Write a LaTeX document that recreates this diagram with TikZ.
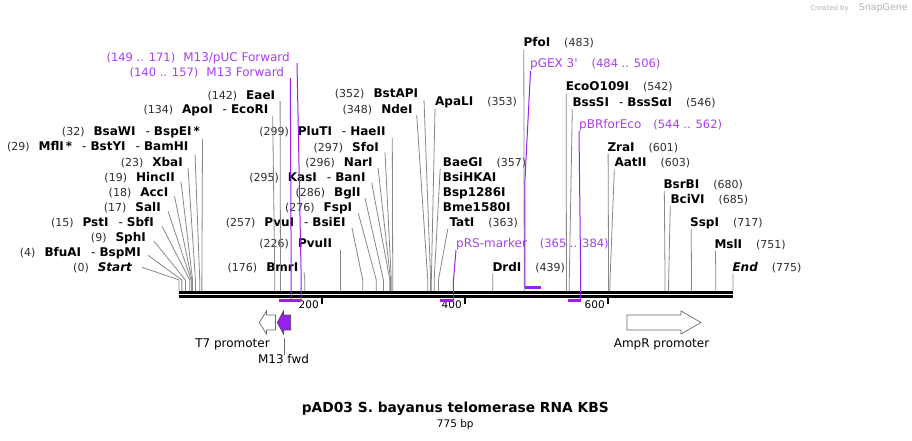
\documentclass[tikz,border=0pt]{standalone}
\usepackage{fontspec}
\setmainfont{DejaVu Sans}
\usetikzlibrary{positioning}

\definecolor{numgray}{RGB}{45,45,45}
\definecolor{cutgray}{RGB}{135,135,135}
\definecolor{primerline}{RGB}{152,32,238}
\definecolor{primertext}{RGB}{168,62,240}
\definecolor{featgray}{RGB}{105,105,105}

\newcommand{\bpx}[1]{179+0.7148*#1}
\newcommand{\sitenum}[1]{{\fontsize{11}{13}\selectfont\color{numgray}(#1)}}
\newcommand{\primnum}[1]{{\fontsize{11.5}{13}\selectfont(#1)}}
\newcommand{\orcut}{\hspace{10pt}-\hspace{4pt}}
\newcommand{\cutsite}[3]{\draw[cut] ([shift={#2}]#1) -- ({\bpx{#3}},280) -- ({\bpx{#3}},291);}

\begin{document}
\begin{tikzpicture}[x=1pt,y=-1pt,
    lbl/.style={inner sep=0pt,text height=9pt,text depth=2.5pt,font=\fontsize{12}{14}\selectfont},
    lblL/.style={lbl,anchor=base east},
    lblR/.style={lbl,anchor=base west},
    plbl/.style={lbl,text=primertext},
    cut/.style={draw=cutgray,line width=0.8pt},
    primer/.style={draw=primerline,line width=1pt},
    primerbar/.style={draw=primerline,line width=2.6pt},
    feat/.style={draw=featgray,line width=0.7pt,fill=white,line join=miter},
    featlbl/.style={inner sep=0pt,font=\fontsize{12}{14}\selectfont}]
	\useasboundingbox (0,0) rectangle (912,441);

	\node[lblL] (start) at (132.5,271.5) {\sitenum{0}\hspace{9pt}\textbf{\textit{Start}}};
	\node[lblL] (bfuAI) at (141,256.5) {\sitenum{4}\hspace{9pt}\textbf{BfuAI}\orcut\textbf{BspMI}};
	\node[lblL] (sphI) at (146,241.5) {\sitenum{9}\hspace{9pt}\textbf{SphI}};
	\node[lblL] (pstI) at (154,226.5) {\sitenum{15}\hspace{9pt}\textbf{PstI}\orcut\textbf{SbfI}};
	\node[lblL] (salI) at (161,211.5) {\sitenum{17}\hspace{9pt}\textbf{SalI}};
	\node[lblL] (accI) at (168.5,196.5) {\sitenum{18}\hspace{9pt}\textbf{AccI}};
	\node[lblL] (hincII) at (175,181.5) {\sitenum{19}\hspace{9pt}\textbf{HincII}};
	\node[lblL] (xbaI) at (183,166) {\sitenum{23}\hspace{9pt}\textbf{XbaI}};
	\node[lblL] (mflI) at (188.5,150.5) {\sitenum{29}\hspace{9pt}\textbf{MflI\,*}\orcut\textbf{BstYI}\orcut\textbf{BamHI}};
	\node[lblL] (bsaWI) at (200,135.5) {\sitenum{32}\hspace{9pt}\textbf{BsaWI}\orcut\textbf{BspEI\,*}};

	\node[lblL] (apoI) at (268.5,113.5) {\sitenum{134}\hspace{9pt}\textbf{ApoI}\orcut\textbf{EcoRI}};
	\node[lblL] (eaeI) at (275.3,99.5) {\sitenum{142}\hspace{9pt}\textbf{EaeI}};
	\node[lblL] (bmrI) at (298.5,271.5) {\sitenum{176}\hspace{9pt}\textbf{BmrI}};
	\node[lblL] (pvuII) at (332.3,247.6) {\sitenum{226}\hspace{9pt}\textbf{PvuII}};
	\node[lblL] (pvuI) at (345.7,226) {\sitenum{257}\hspace{9pt}\textbf{PvuI}\orcut\textbf{BsiEI}};
	\node[lblL] (fspI) at (352.3,211) {\sitenum{276}\hspace{9pt}\textbf{FspI}};
	\node[lblL] (bglI) at (360.7,196) {\sitenum{286}\hspace{9pt}\textbf{BglI}};
	\node[lblL] (kasI) at (365.7,181) {\sitenum{295}\hspace{9pt}\textbf{KasI}\orcut\textbf{BanI}};
	\node[lblL] (narI) at (372.7,166) {\sitenum{296}\hspace{9pt}\textbf{NarI}};
	\node[lblL] (sfoI) at (379,151) {\sitenum{297}\hspace{9pt}\textbf{SfoI}};
	\node[lblL] (pluTI) at (385.7,135.2) {\sitenum{299}\hspace{9pt}\textbf{PluTI}\orcut\textbf{HaeII}};
	\node[lblL] (ndeI) at (412.7,113.3) {\sitenum{348}\hspace{9pt}\textbf{NdeI}};
	\node[lblL] (bstAPI) at (418.3,97.6) {\sitenum{352}\hspace{9pt}\textbf{BstAPI}};

	\node[lblR] (apaLI) at (435,106) {\textbf{ApaLI}\hspace{14pt}\sitenum{353}};
	\node[lblR] (baeGI) at (442.7,166) {\textbf{BaeGI}\hspace{14pt}\sitenum{357}};
	\node[lblR] (bsiHKAI) [below=15pt of baeGI.base west,anchor=base west] {\textbf{BsiHKAI}};
	\node[lblR] (bsp1286I) [below=15pt of bsiHKAI.base west,anchor=base west] {\textbf{Bsp1286I}};
	\node[lblR] (bme1580I) [below=15pt of bsp1286I.base west,anchor=base west] {\textbf{Bme1580I}};
	\node[lblR] (tatI) at (449.3,226) {\textbf{TatI}\hspace{14pt}\sitenum{363}};
	\node[lblR] (drdI) at (492.3,271.5) {\textbf{DrdI}\hspace{14pt}\sitenum{439}};
	\node[lblR] (pfoI) at (523.3,46.6) {\textbf{PfoI}\hspace{14pt}\sitenum{483}};
	\node[lblR] (ecoO109I) at (565.7,91) {\textbf{EcoO109I}\hspace{14pt}\sitenum{542}};
	\node[lblR] (bssSI) at (572.3,106.6) {\textbf{BssSI}\orcut\textbf{BssSαI}\hspace{14pt}\sitenum{546}};
	\node[lblR] (zraI) at (607.3,151) {\textbf{ZraI}\hspace{14pt}\sitenum{601}};
	\node[lblR] (aatII) at (614.3,166.6) {\textbf{AatII}\hspace{14pt}\sitenum{603}};
	\node[lblR] (bsrBI) at (663.3,188.3) {\textbf{BsrBI}\hspace{14pt}\sitenum{680}};
	\node[lblR] (bciVI) at (670.3,203.3) {\textbf{BciVI}\hspace{14pt}\sitenum{685}};
	\node[lblR] (sspI) at (690,226) {\textbf{SspI}\hspace{14pt}\sitenum{717}};
	\node[lblR] (mslI) at (714.3,248.3) {\textbf{MslI}\hspace{14pt}\sitenum{751}};
	\node[lblR] (endS) at (732.3,271) {\textbf{\textit{End}}\hspace{14pt}\sitenum{775}};

	\cutsite{start.east}{(9.5,-1)}{0}
	\cutsite{bfuAI.east}{(7,2)}{4}
	\cutsite{sphI.east}{(8,3)}{9}
	\cutsite{pstI.east}{(8,3)}{15}
	\cutsite{salI.east}{(7,3)}{17}
	\cutsite{accI.east}{(6,3)}{18}
	\cutsite{hincII.east}{(6,3.5)}{19}
	\cutsite{xbaI.east}{(5,5)}{23}
	\cutsite{mflI.east}{(6.5,7)}{29}
	\cutsite{bsaWI.east}{(2.5,7)}{32}
	\cutsite{apoI.east}{(4.2,5.8)}{134}
	\cutsite{eaeI.east}{(4.8,4.8)}{142}
	\cutsite{bmrI.east}{(5.5,4)}{176}
	\cutsite{pvuII.east}{(8.2,5.6)}{226}
	\cutsite{pvuI.east}{(6.3,5.3)}{257}
	\cutsite{fspI.east}{(6,5.5)}{276}
	\cutsite{bglI.east}{(4.3,5.3)}{286}
	\cutsite{kasI.east}{(6,5)}{295}
	\cutsite{narI.east}{(5.3,5)}{296}
	\cutsite{sfoI.east}{(6,4.5)}{297}
	\cutsite{pluTI.east}{(6.6,6)}{299}
	\cutsite{ndeI.east}{(4,5)}{348}
	\cutsite{bstAPI.east}{(5.7,5.6)}{352}
	\cutsite{apaLI.south west}{(0,0)}{353}
	\cutsite{baeGI.south west}{(-2.5,0)}{357}
	\cutsite{tatI.south west}{(-1.5,0)}{363}
	\cutsite{drdI.south west}{(0.5,0)}{439}
	\cutsite{pfoI.south west}{(0.5,0.5)}{483}
	\cutsite{ecoO109I.south west}{(0.5,0)}{542}
	\cutsite{bssSI.south west}{(0,0)}{546}
	\cutsite{zraI.south west}{(0.8,0)}{601}
	\cutsite{aatII.south west}{(0,0)}{603}
	\cutsite{bsrBI.south west}{(1,0)}{680}
	\cutsite{bciVI.south west}{(0,0)}{685}
	\cutsite{sspI.south west}{(1.2,0)}{717}
	\cutsite{mslI.south west}{(1.2,0)}{751}
	\cutsite{endS.south west}{(0.7,0)}{775}

	\coordinate (mapL) at (179,292.3);
	\coordinate (mapR) at (733,292.3);
	\draw[line width=2.6pt] (mapL) -- (mapR);
	\draw[line width=2.6pt] ([shift={(0,4)}]mapL) -- ([shift={(0,4)}]mapR);
	\foreach \t in {200,400,600}{
		\draw[line width=1.8pt] ({\bpx{\t}},297) -- ({\bpx{\t}},303.5);
		\node[inner sep=0pt,anchor=base east,font=\fontsize{10.5}{12}\selectfont] (tick\t) at ({\bpx{\t}-3},308.5) {\t};
	}

	\node[plbl,anchor=base east] (m13puc) at (290,61.3) {\primnum{149 .. 171}\hspace{8pt}M13/pUC Forward};
	\node[plbl,anchor=base east] (m13fwd) at (284.3,76.3) {\primnum{140 .. 157}\hspace{8pt}M13 Forward};
	\node[plbl,anchor=base west] (pgex) at (530,67.3) {pGEX 3\textquotesingle\hspace{14pt}\primnum{484 .. 506}};
	\node[plbl,anchor=base west] (pbr) at (579,128.3) {pBRforEco\hspace{12pt}\primnum{544 .. 562}};
	\node[plbl,anchor=base west] (prs) at (456,247.3) {pRS-marker\hspace{13pt}\primnum{365 .. 384}};

	\draw[primer] ([shift={(7,5)}]m13puc.east) -- ({\bpx{171}},280) -- ({\bpx{171}},300.5);
	\draw[primer] ([shift={(6,5)}]m13fwd.east) -- ({\bpx{157}},280) -- ({\bpx{157}},300.5);
	\draw[primer] ([shift={(0.5,1)}]pgex.south west) -- ({\bpx{484}},180) -- ({\bpx{484}},287.5);
	\draw[primer] (pbr.south west) -- ({\bpx{562}},280) -- ({\bpx{562}},300.5);
	\draw[primer] (prs.south west) -- ({\bpx{384}},280) -- ({\bpx{384}},300.5);
	\draw[primerbar] ({\bpx{140}},300.5) -- ({\bpx{157}},300.5);
	\draw[primerbar] ({\bpx{149}},300.5) -- ({\bpx{171}},300.5);
	\draw[primerbar] ({\bpx{484}},287.5) -- ({\bpx{506}},287.5);
	\draw[primerbar] ({\bpx{544}},300.5) -- ({\bpx{562}},300.5);
	\draw[primerbar] ({\bpx{365}},300.5) -- ({\bpx{384}},300.5);

	\draw[feat] (275.4,315) -- (266.4,315) -- (266.4,311) -- (259.3,322.5) -- (266.4,334) -- (266.4,330) -- (275.4,330) -- cycle;
	\draw[feat,fill=primerline,draw=black!70] (290.7,315) -- (283.5,315) -- (283.5,311) -- (277.3,322.5) -- (283.5,334) -- (283.5,330) -- (290.7,330) -- cycle;
	\draw[feat] (627,315) -- (681,315) -- (681,311) -- (701,322.5) -- (681,334) -- (681,330) -- (627,330) -- cycle;
	\node[featlbl] (t7lbl) at (232.5,344) {T7 promoter};
	\node[featlbl] (amplbl) at (661.5,344) {AmpR promoter};
	\node[featlbl] (m13lbl) at (283.5,359.5) {M13 fwd};
	\coordinate (m13feat) at (284.5,338);
	\draw[draw=featgray,line width=0.6pt] (m13feat) -- (m13feat |- m13lbl.north);

	\node[inner sep=0pt,font=\fontsize{13.8}{16}\bfseries\selectfont] (title) at (455.3,409) {pAD03 S. bayanus telomerase RNA KBS};
	\node[inner sep=0pt,font=\fontsize{10.5}{12}\selectfont] (size) at (455.3,424.3) {775 bp};
	\node[anchor=east,inner sep=0pt,text=black!30] (credit) at (908,7.5) {{\fontsize{7}{8}\selectfont Created by}\hspace{10pt}{\fontsize{9.5}{10}\selectfont SnapGene}};
\end{tikzpicture}
\end{document}
